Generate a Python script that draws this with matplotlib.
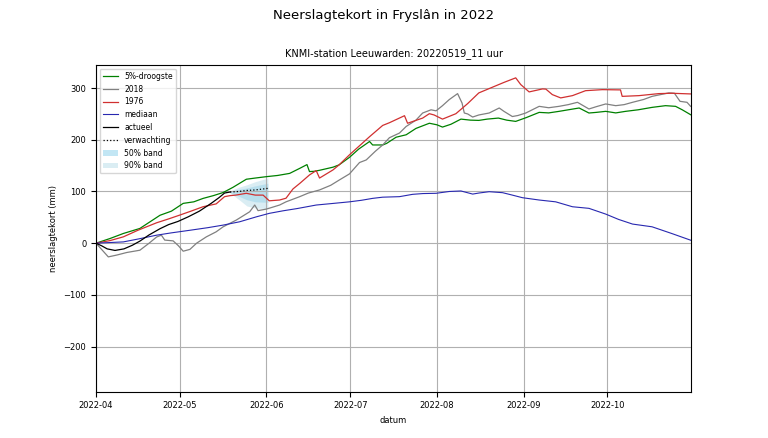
import numpy as np
import pandas as pd
import matplotlib
matplotlib.use("Agg")
import matplotlib.pyplot as plt
import matplotlib.dates as mdates

# --- Gegevens (dag na 1 april, neerslagtekort in mm) ---
START = pd.Timestamp("2022-04-01")

droog5_dag = [0, 5, 9.8, 15.7, 22.9, 27, 31.2, 35, 38.3, 42, 45.5, 49, 53.8, 57, 61, 65, 69.3, 73,
              75.5, 76.4, 78, 80, 84.8, 87, 90.7, 94, 97.9, 99, 102.6, 104, 107.4, 111, 114.5,
              119.3, 122, 124, 127, 130.6, 134, 137, 140, 144, 147, 150.2, 154, 158.6, 162,
              165.7, 169, 172.9, 176.4, 179, 182.4, 186, 189.5, 194, 199, 203.8, 207.4, 209.8, 212.8]
droog5_mm = [0, 9, 18.8, 28.5, 54, 62, 77, 80, 86.6, 92, 98, 108, 123.7, 126, 128.7, 131, 135, 145,
             152, 138.5, 139, 141, 147, 151.5, 166, 182, 196.7, 190, 190, 193, 205, 209.7, 222,
             232, 229, 224.6, 230, 240, 238, 237.5, 240, 242, 238, 235.6, 243, 253, 252,
             255, 258, 261.5, 251.8, 253, 255, 252, 255, 258, 262.7, 266, 264.7, 258, 248.5]

j2018_dag = [0, 2, 4.4, 7.4, 11, 15.7, 19, 21.7, 23.4, 24.6, 27.6, 29.5, 31.2, 33.6, 36, 39.5, 43,
             45.5, 50.2, 55, 56.8, 58, 61, 65.7, 68, 72.9, 76, 80, 84, 87, 90.7, 94.3, 96.7, 100,
             102.6, 105, 108.6, 111, 114.5, 116.9, 119.9, 121.7, 124, 126.4, 129.4, 131, 131.8,
             133, 134.8, 137, 140.7, 144.3, 146, 149, 151, 153.8, 158.6, 162, 165.7, 169, 172.3,
             176.4, 179, 182.4, 186, 189, 192, 196, 199, 205, 207, 209, 211.5, 212.8]
j2018_mm = [0, -12, -26.5, -23, -18, -13.6, 0, 12, 15.5, 6, 4.5, -5, -15.5, -12, 0, 12.3, 22,
            31.7, 44.7, 60.8, 73.8, 63, 66, 73.8, 80, 90, 97, 103, 112, 122, 134, 156, 161, 178,
            190, 204, 213, 225.8, 238, 251.8, 258, 256, 266, 277.7, 289.3, 271, 251.8,
            250, 244, 248, 251.8, 261.5, 255, 245, 247, 251.8, 264.7, 262, 264.7, 268, 272.5,
            259.6, 264, 269.3, 266, 268, 272.5, 278, 284, 290.7, 290, 274.4, 272.5, 264.7]

j1976_dag = [0, 5, 9.8, 15, 21.7, 26, 30, 34, 38.3, 43, 46, 48, 50, 53.8, 57, 59.8, 62, 65.7, 68,
             70.5, 73, 76.4, 78.8, 80, 84.8, 87, 90.7, 94, 97.9, 102.6, 105, 110.4, 111.5, 116.9,
             119.3, 121, 124, 128.8, 133, 137, 142, 146, 150.2, 152, 155, 159.8, 161, 163.3,
             166.3, 170.5, 175.2, 181.2, 187.7, 188.3, 194.3, 201.4, 206, 212.8]
j1976_mm = [0, 5, 12.3, 25, 39.5, 47, 54.4, 62, 70.5, 76, 90, 92, 93, 96.5, 93, 93, 82, 83.5, 87,
            105, 116, 132, 140.4, 126, 141.7, 151.5, 170.9, 187, 206, 227.8, 233, 246.6, 232, 242,
            250.5, 248, 240, 250.5, 270, 290.7, 302, 311, 319.8, 306.8, 292.6, 298.4, 298, 287.4,
            281, 285.4, 295, 297, 296.5, 284, 285.4, 289.3, 290, 288.7]

mediaan_dag = [0, 9.8, 15, 21.7, 27, 33.6, 40, 45.5, 51.4, 57.4, 62, 67, 72, 78.8, 85, 90.7, 95,
               99, 102.6, 108.6, 113.3, 117, 121.7, 126.4, 130.6, 134.8, 137, 140.7, 145.5, 149,
               152.6, 158.6, 164.5, 170.5, 176.4, 182.4, 187, 192, 199, 206, 212.8]
mediaan_mm = [0, 2.5, 8, 15.5, 20, 25, 30, 35, 41.4, 51, 57.7, 62.7, 67, 73.8, 77, 80, 83,
              86.7, 89, 90, 94.5, 96, 96.5, 100, 101, 95, 97, 99.6, 97.7, 93,
              88, 83.5, 80, 70.5, 67.4, 56.3, 46, 37, 31.7, 18.8, 5.8]

actueel_dag = [0, 2, 4, 6.8, 10, 13, 15.7, 19, 22.9, 26, 29.3, 33, 37, 41.2, 44, 46, 48]
actueel_mm = [0, -5, -11, -14, -11, -4, 4, 16, 28, 36, 42, 51, 62, 77, 88, 97, 99]

verw_dag = [48, 51, 54, 57, 61.5]
verw_mm = [99, 100, 102, 103, 106]
band90_laag = [97, 85, 72, 68, 67]
band90_hoog = [101, 108, 113, 119, 126]
band50_laag = [98, 91, 84, 80, 79]
band50_hoog = [100, 104, 107, 111, 116]


def datums(dagen):
    return START + pd.to_timedelta(np.array(dagen), unit="D")


# --- Figuur ---
fig, ax = plt.subplots(figsize=(7.68, 4.38), dpi=100)
plt.subplots_adjust(left=0.125, right=0.9, bottom=0.106, top=0.852)

ax.plot(datums(droog5_dag), droog5_mm, color="green", lw=0.9, label="5%-droogste")
ax.plot(datums(j2018_dag), j2018_mm, color="gray", lw=0.9, label="2018")
ax.plot(datums(j1976_dag), j1976_mm, color="#d03030", lw=0.9, label="1976")
ax.plot(datums(mediaan_dag), mediaan_mm, color="#2828b0", lw=0.8, label="mediaan")
ax.plot(datums(actueel_dag), actueel_mm, color="black", lw=0.9, label="actueel")
ax.plot(datums(verw_dag), verw_mm, color="black", lw=0.9, ls=":", label="verwachting")
ax.fill_between(datums(verw_dag), band50_laag, band50_hoog, color="skyblue", alpha=0.5,
                lw=0, label="50% band")
ax.fill_between(datums(verw_dag), band90_laag, band90_hoog, color="lightblue", alpha=0.45,
                lw=0, label="90% band")

ax.set_xlim(START, pd.Timestamp("2022-10-31"))
ax.set_ylim(-287, 345)
ax.xaxis.set_major_locator(mdates.MonthLocator())
ax.xaxis.set_major_formatter(mdates.DateFormatter("%Y-%m"))
ax.grid(True)
ax.tick_params(labelsize=6)

ax.set_xlabel("datum", fontsize=6)
ax.set_ylabel("neerslagtekort (mm)", fontsize=6)
ax.set_title("KNMI-station Leeuwarden: 20220519_11 uur", fontsize=7)
fig.suptitle("Neerslagtekort in Fryslân in 2022", fontsize=9.5)
ax.legend(loc="upper left", fontsize=5.5, labelspacing=0.5)

fig.savefig("out.png", dpi=100)
